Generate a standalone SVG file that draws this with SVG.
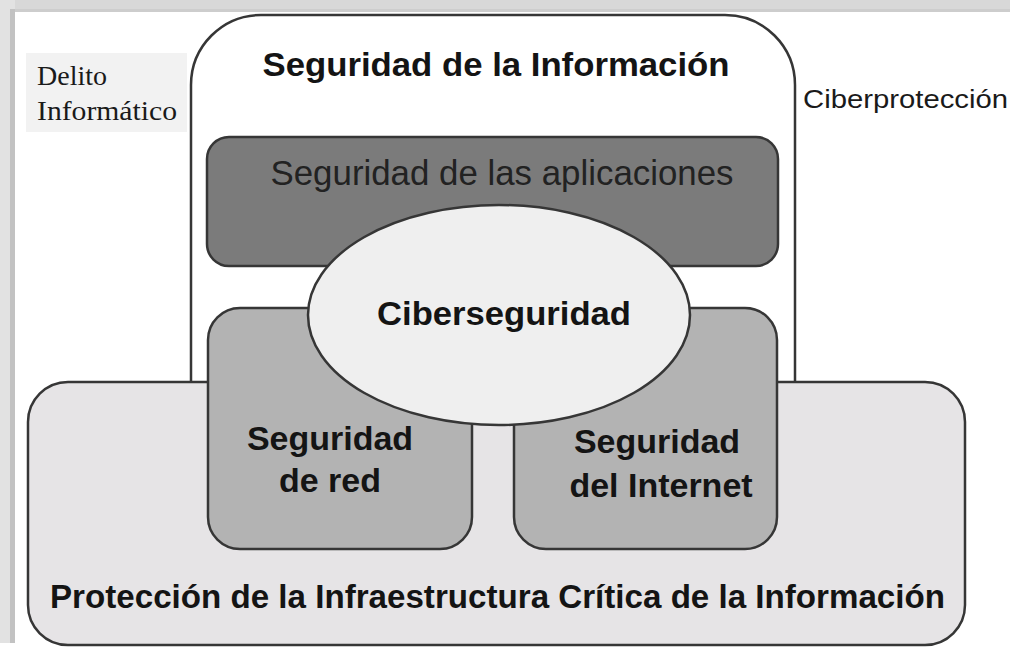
<svg xmlns="http://www.w3.org/2000/svg" width="1010" height="649" viewBox="0 0 1010 649">
<style>
.sh{stroke:#363636;stroke-width:2.5}
.b{font-family:"Liberation Sans",Arial,sans-serif;font-weight:bold;fill:#141414;text-anchor:middle}
.r{font-family:"Liberation Sans",Arial,sans-serif;fill:#222;text-anchor:middle}
.s{font-family:"Liberation Serif","Times New Roman",serif;fill:#1a1a1a}
</style>
<rect width="1010" height="649" fill="#ffffff"/>
<g id="frame">
<rect x="0" y="0" width="1010" height="12" fill="#d8d8d8"/>
<rect x="0" y="9" width="1010" height="3" fill="#cdcdcd"/>
<rect x="0" y="0" width="15" height="643" fill="#e2e2e2"/>
<rect x="10" y="9" width="5" height="634" fill="#c2c2c2"/>
</g>
<g id="delito">
<rect x="26" y="53" width="161" height="79" fill="#f2f2f2"/>
<text class="s" x="37" y="85" font-size="28">Delito</text>
<text class="s" x="37" y="120" font-size="28" textLength="140" lengthAdjust="spacingAndGlyphs">Informático</text>
</g>
<g id="ciberproteccion">
<text x="803" y="108" font-family="'Liberation Sans',Arial,sans-serif" font-size="26" fill="#1a1a1a" textLength="205" lengthAdjust="spacingAndGlyphs">Ciberprotección</text>
</g>
<g id="seguridad-informacion">
<path class="sh" d="M191,384 L191,85 A70,70 0 0 1 261,15 L725,15 A70,70 0 0 1 795,85 L795,384" fill="#ffffff"/>
<text class="b" x="496" y="76" font-size="33" textLength="467" lengthAdjust="spacingAndGlyphs">Seguridad de la Información</text>
</g>
<g id="proteccion-infraestructura">
<rect class="sh" x="28" y="382" width="937" height="263" rx="40" ry="40" fill="#e6e4e6"/>
<text class="b" x="497.5" y="608" font-size="33" textLength="895" lengthAdjust="spacingAndGlyphs">Protección de la Infraestructura Crítica de la Información</text>
</g>
<g id="seguridad-aplicaciones">
<rect class="sh" x="207" y="137" width="571" height="129" rx="22" ry="22" fill="#7b7b7b"/>
<text class="r" x="502" y="185" font-size="35" textLength="463" lengthAdjust="spacingAndGlyphs">Seguridad de las aplicaciones</text>
</g>
<g id="seguridad-red">
<rect class="sh" x="208" y="308" width="264" height="241" rx="32" ry="32" fill="#b3b3b3"/>
<text class="b" x="330" y="450" font-size="34">Seguridad</text>
<text class="b" x="330" y="492" font-size="34">de red</text>
</g>
<g id="seguridad-internet">
<rect class="sh" x="514" y="308" width="263" height="241" rx="32" ry="32" fill="#b3b3b3"/>
<text class="b" x="657" y="453" font-size="34">Seguridad</text>
<text class="b" x="661" y="497" font-size="34">del Internet</text>
</g>
<g id="ciberseguridad">
<ellipse class="sh" cx="499" cy="315" rx="191" ry="110" fill="#efefef"/>
<text class="b" x="504" y="325" font-size="34" textLength="254" lengthAdjust="spacingAndGlyphs">Ciberseguridad</text>
</g>
<g id="connectors"></g>
</svg>
